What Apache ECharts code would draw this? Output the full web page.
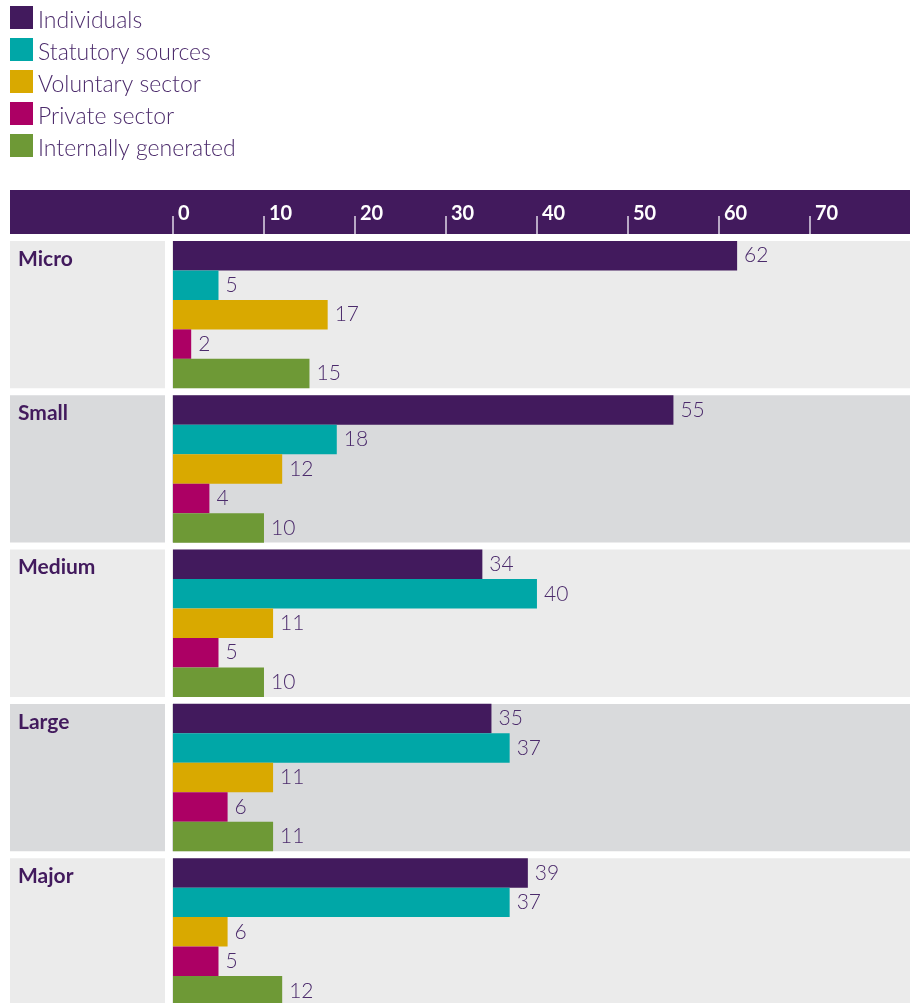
<!DOCTYPE html>
<html>
<head>
<meta charset="utf-8">
<script src="https://cdn.jsdelivr.net/npm/echarts@6/dist/echarts.min.js"></script>
<style>
  html, body { margin: 0; padding: 0; background: #fff; overflow: hidden; }
  /* a bit taller than the window: the last band is cut off, like the source */
  #chart { width: 916px; height: 1009px; }
</style>
</head>
<body>
<div id="chart"></div>
<script>
const categories = ['Micro', 'Small', 'Medium', 'Large', 'Major'];
const seriesNames = ['Individuals', 'Statutory sources', 'Voluntary sector', 'Private sector', 'Internally generated'];
const individuals = [62, 55, 34, 35, 39];
const statutory = [5, 18, 40, 37, 37];
const voluntary = [17, 12, 11, 11, 6];
const privateSector = [2, 4, 5, 6, 5];
const internal = [15, 10, 10, 11, 12];
const tickValues = [0, 10, 20, 30, 40, 50, 60, 70];

const COLORS = ['#421a5d', '#00a7a7', '#d9a900', '#ac0064', '#6e9936'];
const PANEL_COLORS = ['#ebebeb', '#d9dadc'];
const TEXT = '#4b2a6b';
const FONT = 'Lato, "Open Sans", sans-serif';

const seriesData = [individuals, statutory, voluntary, privateSector, internal];

const chart = echarts.init(document.getElementById('chart'), null, { renderer: 'canvas' });

// panels behind each size band, with the band name in the top-left corner
function renderPanel(params, api) {
  const idx = api.value(0);
  const cy = api.coord([0, idx])[1];
  const band = api.size([0, 1])[1];
  const top = cy - band / 2 + 3.5;
  const h = band - 7;
  const fill = PANEL_COLORS[idx % 2];
  return {
    type: 'group',
    children: [
      { type: 'rect', shape: { x: 10, y: top, width: 155, height: h }, style: { fill } },
      { type: 'rect', shape: { x: 172, y: top, width: 738, height: h }, style: { fill } },
      {
        type: 'text',
        x: 18, y: top + 18,
        style: {
          text: categories[idx],
          fill: '#421a5d',
          font: 'bold 21px ' + FONT,
          verticalAlign: 'middle'
        }
      }
    ]
  };
}

const option = {
  animation: false,
  color: COLORS,
  legend: {
    orient: 'vertical',
    left: 10,
    top: 6,
    padding: 0,
    itemWidth: 23,
    itemHeight: 23,
    itemGap: 6,
    icon: 'rect',
    data: seriesNames,
    // push the text down a little so its baseline sits near the bottom of the swatch
    formatter: name => '{t|' + name + '}',
    textStyle: {
      rich: {
        t: {
          color: TEXT, fontSize: 23, fontFamily: FONT, fontWeight: 300,
          padding: [6, 0, 0, 0]
        }
      }
    }
  },
  graphic: [
    {
      type: 'rect',
      z: -1,
      shape: { x: 10, y: 190, width: 900, height: 44 },
      style: { fill: '#421a5d' }
    }
  ],
  grid: {
    left: 173,
    right: 6,
    top: 237.5,
    bottom: 0,
    containLabel: false
  },
  xAxis: {
    type: 'value',
    position: 'top',
    min: 0,
    max: 81,
    interval: 10,
    offset: 3.5,
    splitLine: { show: false },
    axisLine: { show: false },
    axisTick: {
      show: true,
      length: 18,
      lineStyle: { color: '#e0d8e8', width: 1.5 },
      customValues: tickValues
    },
    axisLabel: {
      color: '#ffffff',
      fontSize: 20,
      fontWeight: 'bold',
      fontFamily: FONT,
      align: 'left',
      verticalAlign: 'middle',
      margin: 20,
      padding: [0, 0, 0, 5],
      customValues: tickValues
    }
  },
  yAxis: {
    type: 'category',
    data: categories,
    inverse: true,
    axisLine: { show: false },
    axisTick: { show: false },
    axisLabel: { show: false }
  },
  series: [
    {
      type: 'custom',
      name: 'panels',
      z: 0,
      silent: true,
      clip: false,
      renderItem: renderPanel,
      encode: { x: 1, y: 0 },
      data: categories.map((c, i) => [i, 0])
    }
  ].concat(seriesNames.map((name, i) => ({
    type: 'bar',
    name,
    z: 2,
    barGap: 0,
    barCategoryGap: '4.5%',
    data: seriesData[i],
    itemStyle: { color: COLORS[i] },
    label: {
      show: true,
      position: 'right',
      distance: 7,
      color: TEXT,
      fontSize: 21,
      fontFamily: FONT,
      fontWeight: 300
    }
  })))
};

chart.setOption(option);
</script>
</body>
</html>
